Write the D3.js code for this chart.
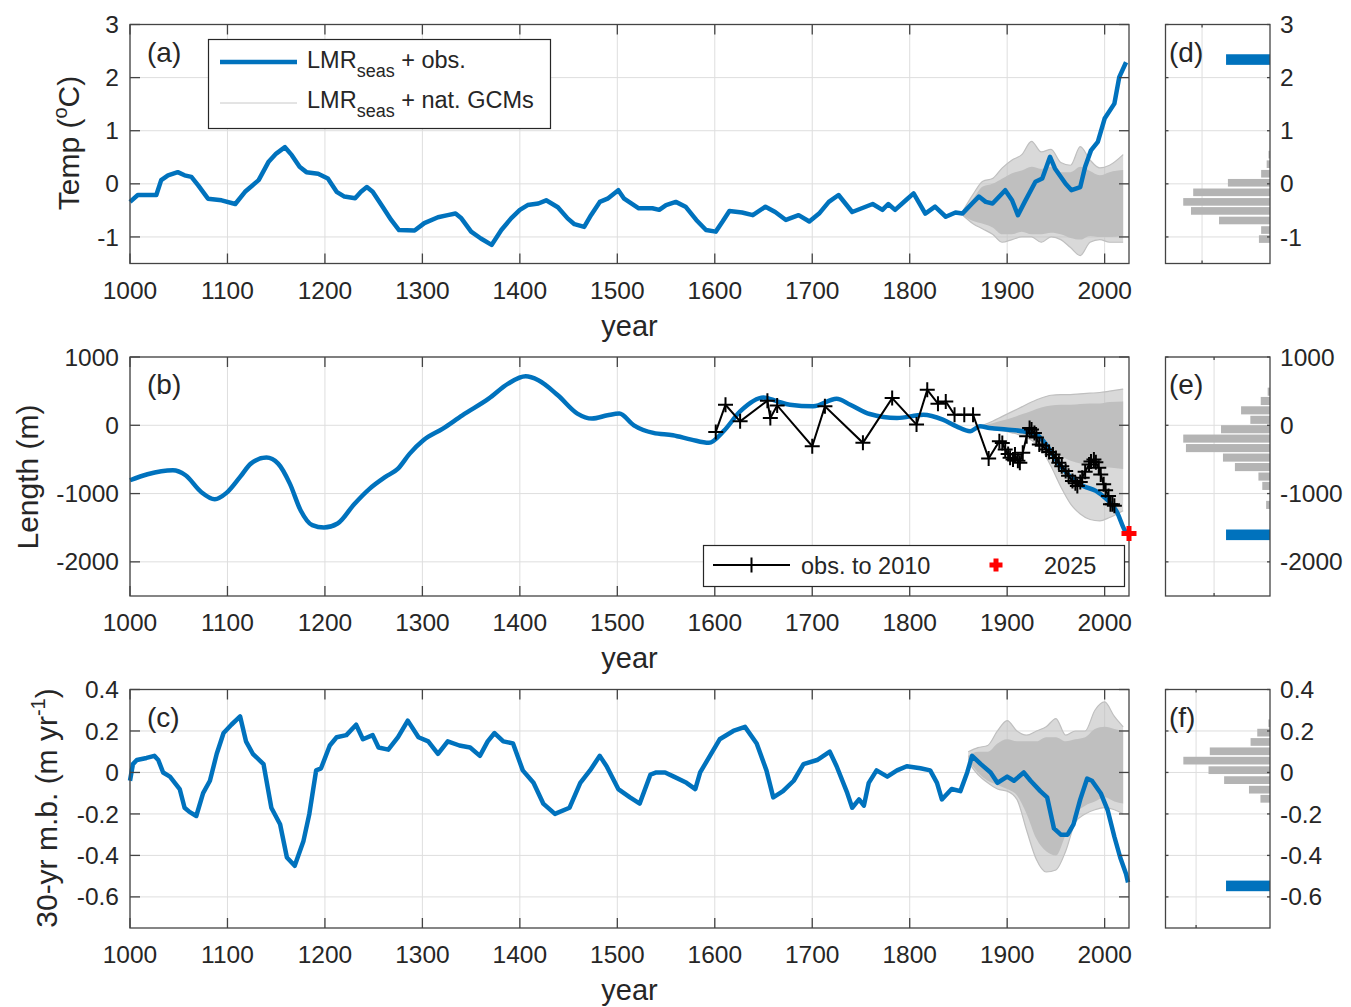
<!DOCTYPE html>
<html>
<head>
<meta charset="utf-8">
<script src="https://cdn.jsdelivr.net/npm/d3@7"></script>
<style>
  body { margin: 0; background: #fff; }
  text { font-family: "Liberation Sans", Arial, Helvetica, sans-serif; fill: #262626; }
</style>
</head>
<body>
<svg id="fig" width="1351" height="1007"></svg>
<script>
// ---------- data ----------
// (a) temperature anomaly, LMR_seas + obs.
var tempYear = [1000,1008,1027,1032,1039,1049,1056,1063,1070,1080,1094,1108,1118,1125,1132,1142,1150,1159,1166,1174,1181,1193,1203,1212,1220,1231,1237,1243,1249,1258,1268,1276,1292,1302,1316,1326,1334,1340,1350,1360,1371,1381,1391,1400,1408,1419,1427,1439,1449,1456,1466,1473,1482,1490,1501,1507,1512,1522,1536,1543,1550,1560,1570,1581,1591,1601,1608,1615,1628,1639,1652,1662,1673,1686,1697,1707,1717,1727,1741,1762,1772,1778,1785,1796,1804,1816,1826,1837,1847,1854,1864,1871,1878,1885,1898,1905,1911,1918,1929,1936,1944,1949,1960,1966,1975,1980,1986,1993,2000,2010,2015,2022];
var tempVal = [-0.34,-0.21,-0.21,0.07,0.16,0.22,0.16,0.13,-0.03,-0.28,-0.31,-0.38,-0.15,-0.04,0.07,0.41,0.57,0.69,0.54,0.32,0.22,0.19,0.1,-0.15,-0.24,-0.27,-0.15,-0.06,-0.15,-0.4,-0.68,-0.87,-0.88,-0.74,-0.63,-0.59,-0.56,-0.65,-0.9,-1.03,-1.15,-0.87,-0.65,-0.49,-0.4,-0.37,-0.31,-0.44,-0.65,-0.76,-0.81,-0.59,-0.34,-0.28,-0.12,-0.28,-0.34,-0.46,-0.46,-0.49,-0.4,-0.34,-0.43,-0.68,-0.87,-0.9,-0.71,-0.51,-0.54,-0.59,-0.43,-0.53,-0.68,-0.59,-0.71,-0.56,-0.34,-0.21,-0.53,-0.38,-0.49,-0.38,-0.49,-0.31,-0.18,-0.56,-0.43,-0.62,-0.54,-0.56,-0.37,-0.24,-0.34,-0.37,-0.12,-0.31,-0.59,-0.34,0.04,0.1,0.51,0.29,0.0,-0.12,-0.06,0.32,0.63,0.79,1.23,1.51,2.01,2.29];
// (a) LMR_seas + nat. GCMs ensemble spread
var tempEnsYear   = [1855,1865,1875,1885,1895,1905,1915,1925,1935,1945,1955,1965,1975,1985,1995,2005,2019];
var tempEnsHi     = [-0.5,-0.2,0.05,0.1,0.3,0.45,0.55,0.8,0.6,0.65,0.4,0.35,0.7,0.45,0.3,0.35,0.55];
var tempEnsCoreHi = [-0.5,-0.28,-0.05,0.0,0.1,0.2,0.25,0.32,0.28,0.32,0.22,0.22,0.32,0.24,0.16,0.22,0.26];
var tempEnsCoreLo = [-0.6,-0.7,-0.75,-0.82,-0.95,-0.95,-0.9,-0.95,-0.95,-0.92,-0.95,-1.02,-1.05,-0.98,-1.0,-1.0,-0.98];
var tempEnsLo     = [-0.6,-0.75,-0.85,-0.95,-1.1,-1.05,-1.0,-1.0,-1.1,-1.0,-1.05,-1.2,-1.35,-1.1,-1.05,-1.1,-1.1];

// (b) glacier length
var lenYear = [1000,1018,1044,1057,1073,1087,1099,1113,1124,1140,1152,1164,1175,1187,1199,1213,1230,1246,1262,1275,1287,1301,1321,1341,1368,1388,1406,1419,1439,1459,1474,1490,1502,1517,1537,1557,1576,1594,1609,1626,1650,1664,1677,1701,1725,1739,1759,1787,1814,1834,1848,1862,1872,1882,1899,1916,1930,1940,1950,1964,1978,1991,2002,2012,2022,2025];
var lenVal = [-805,-717,-659,-732,-976,-1083,-990,-756,-561,-473,-561,-854,-1244,-1463,-1498,-1439,-1156,-927,-756,-634,-415,-220,-49,146,390,610,717,659,439,171,98,146,171,0,-112,-146,-210,-257,-87,204,408,350,301,277,388,301,165,107,155,83,-15,-87,-15,-39,-63,-87,-136,-282,-500,-743,-888,-961,-1083,-1252,-1568,-1600];
var lenEnsYear   = [1875,1885,1895,1905,1915,1925,1935,1945,1955,1965,1975,1985,1995,2005,2019];
var lenEnsHi     = [0,60,130,200,270,340,400,440,450,450,460,470,480,500,530];
var lenEnsCoreHi = [-10,30,70,110,160,210,260,290,300,300,310,320,320,340,350];
var lenEnsCoreLo = [-30,-40,-60,-90,-130,-180,-250,-360,-450,-520,-560,-580,-600,-620,-640];
var lenEnsLo     = [-40,-60,-80,-110,-150,-220,-350,-600,-900,-1150,-1300,-1380,-1400,-1350,-1250];
// observed lengths to 2010
var obsYear = [1601,1611,1626,1654,1657,1664,1700,1713,1752,1782,1807,1818,1829,1837,1846,1856,1865,1881,1892,1895,1898,1901,1903,1906,1908,1911,1913,1916,1920,1923,1925,1928,1930,1933,1936,1940,1943,1947,1950,1953,1956,1960,1963,1967,1970,1972,1975,1977,1980,1984,1986,1989,1991,1994,1996,1999,2001,2004,2006,2008,2010];
var obsVal = [-97,301,58,359,107,291,-306,277,-257,398,10,519,316,350,155,155,155,-485,-233,-260,-354,-420,-476,-500,-427,-520,-549,-403,-160,-39,-60,-112,-180,-282,-300,-354,-390,-427,-480,-549,-600,-670,-740,-816,-850,-888,-830,-767,-680,-573,-530,-500,-540,-621,-720,-864,-950,-1034,-1155,-1155,-1180];
var obs2025Year = 2025, obs2025Val = -1583;

// (c) 30-yr mass balance
var mbYear = [1000,1003,1007,1017,1025,1029,1034,1041,1051,1056,1061,1068,1075,1082,1089,1096,1104,1113,1119,1126,1137,1145,1154,1161,1169,1178,1184,1191,1196,1205,1212,1222,1232,1239,1249,1255,1265,1275,1285,1296,1306,1316,1326,1338,1349,1359,1367,1374,1383,1393,1403,1414,1424,1436,1451,1462,1472,1482,1489,1501,1513,1523,1534,1540,1549,1558,1571,1580,1585,1595,1605,1619,1631,1643,1653,1660,1670,1681,1691,1705,1718,1725,1736,1741,1748,1753,1758,1766,1777,1787,1797,1811,1821,1828,1833,1843,1852,1859,1864,1873,1883,1890,1900,1907,1917,1924,1934,1941,1948,1955,1962,1968,1975,1982,1987,1996,2003,2010,2016,2022,2024];
var mbVal = [-0.04,0.04,0.06,0.07,0.08,0.06,0.0,-0.02,-0.08,-0.17,-0.19,-0.21,-0.1,-0.04,0.09,0.19,0.23,0.27,0.15,0.09,0.04,-0.17,-0.25,-0.41,-0.45,-0.33,-0.2,0.01,0.02,0.13,0.17,0.18,0.23,0.16,0.18,0.12,0.11,0.17,0.25,0.17,0.15,0.09,0.15,0.13,0.12,0.08,0.15,0.19,0.15,0.14,0.01,-0.05,-0.15,-0.2,-0.17,-0.05,0.01,0.08,0.03,-0.08,-0.12,-0.15,-0.01,0.0,0.0,-0.02,-0.05,-0.08,0.0,0.08,0.16,0.2,0.22,0.14,0.01,-0.12,-0.09,-0.04,0.04,0.06,0.1,0.03,-0.1,-0.17,-0.13,-0.16,-0.05,0.01,-0.02,0.01,0.03,0.02,0.01,-0.05,-0.13,-0.08,-0.09,0.0,0.08,0.04,0.0,-0.05,-0.02,-0.04,0.0,-0.04,-0.09,-0.12,-0.27,-0.3,-0.3,-0.25,-0.13,-0.03,-0.04,-0.1,-0.18,-0.31,-0.41,-0.49,-0.53];
var mbEnsYear   = [1860,1870,1880,1890,1900,1910,1920,1930,1940,1950,1960,1970,1980,1990,2000,2010,2019];
var mbEnsHi     = [0.1,0.12,0.13,0.2,0.25,0.2,0.18,0.2,0.22,0.26,0.18,0.2,0.2,0.3,0.34,0.27,0.22];
var mbEnsCoreHi = [0.08,0.1,0.1,0.14,0.16,0.15,0.15,0.15,0.17,0.17,0.15,0.16,0.17,0.21,0.22,0.21,0.2];
var mbEnsCoreLo = [0.06,0.0,-0.04,-0.06,-0.08,-0.11,-0.2,-0.32,-0.38,-0.4,-0.3,-0.2,-0.16,-0.14,-0.12,-0.14,-0.15];
var mbEnsLo     = [0.05,-0.01,-0.05,-0.08,-0.09,-0.13,-0.28,-0.42,-0.48,-0.47,-0.38,-0.24,-0.2,-0.18,-0.17,-0.18,-0.2];

// (d)-(f) histograms of ensemble end values (percent of members), plus LMR_seas + obs. end value
var tempBinCenter = [-1.04,-0.87,-0.69,-0.51,-0.34,-0.16,0.02,0.19,0.37,0.55];
var tempBinPct    = [3.0,2.4,13.8,21.4,23.5,20.8,11.4,2.4,0.9,0.4];
var lenBinCenter  = [-1166,-1027,-888,-751,-612,-473,-334,-195,-58,80,219,356,492];
var lenBinPct     = [1.0,0,2.0,3.0,9.1,12.2,21.8,22.5,12.7,5.1,7.5,2.4,0.6];
var mbBinCenter   = [-0.127,-0.083,-0.037,0.011,0.057,0.102,0.147,0.192,0.237];
var mbBinPct      = [3.0,6.6,14.4,19.3,27.2,18.9,6.1,4.0,0.5];
var obsEnd    = [2.34, -1604, -0.547];
var obsEndPct = [11.9, 11.4, 13.8];

// ---------- layout ----------
var svg = d3.select('#fig');
var X0 = 130, X1 = 1129, HX0 = 1165.5, HX1 = 1270;
var BLUE = '#0072BD', GRAY = '#bfbfbf', AX = '#444';
var xScale = d3.scaleLinear().domain([1000, 2025]).range([X0, X1]);
var yearTicks = d3.range(1000, 2001, 100);

function zip(xs, ys) { return xs.map(function (x, i) { return [x, ys[i]]; }); }

function mainPanel(top, bottom, domain, ticks) {
  var y = d3.scaleLinear().domain(domain).range([bottom, top]);
  var g = svg.append('g');
  // grid
  g.selectAll('.gx').data(yearTicks).enter().append('line')
    .attr('x1', d => xScale(d)).attr('x2', d => xScale(d))
    .attr('y1', top).attr('y2', bottom)
    .attr('stroke', '#dedede').attr('stroke-width', 1);
  g.selectAll('.gy').data(ticks).enter().append('line')
    .attr('x1', X0).attr('x2', X1)
    .attr('y1', d => y(d)).attr('y2', d => y(d))
    .attr('stroke', '#dedede').attr('stroke-width', 1);
  return { g: g, y: y, top: top, bottom: bottom, ticks: ticks };
}

function finishPanel(p) {
  var g = svg.append('g');
  g.append('rect').attr('x', X0).attr('y', p.top).attr('width', X1 - X0).attr('height', p.bottom - p.top)
    .attr('fill', 'none').attr('stroke', AX).attr('stroke-width', 1.3);
  yearTicks.forEach(function (t) {
    g.append('line').attr('x1', xScale(t)).attr('x2', xScale(t)).attr('y1', p.bottom).attr('y2', p.bottom - 10).attr('stroke', AX).attr('stroke-width', 1.3);
    g.append('line').attr('x1', xScale(t)).attr('x2', xScale(t)).attr('y1', p.top).attr('y2', p.top + 10).attr('stroke', AX).attr('stroke-width', 1.3);
    g.append('text').attr('x', xScale(t)).attr('y', p.bottom + 35).attr('text-anchor', 'middle')
      .attr('font-size', 24.5).text(t);
  });
  p.ticks.forEach(function (t) {
    g.append('line').attr('x1', X0).attr('x2', X0 + 10).attr('y1', p.y(t)).attr('y2', p.y(t)).attr('stroke', AX).attr('stroke-width', 1.3);
    g.append('line').attr('x1', X1).attr('x2', X1 - 10).attr('y1', p.y(t)).attr('y2', p.y(t)).attr('stroke', AX).attr('stroke-width', 1.3);
    g.append('text').attr('x', 119).attr('y', p.y(t)).attr('dy', '0.35em').attr('text-anchor', 'end')
      .attr('font-size', 24.5).text(String(t));
  });
  g.append('text').attr('x', (X0 + X1) / 2).attr('y', p.bottom + 72).attr('text-anchor', 'middle')
    .attr('font-size', 29).text('year');
}

function ensemble(p, yrs, hi, coreHi, coreLo, lo) {
  var outer = d3.area().x((d, i) => xScale(yrs[i])).y0((d, i) => p.y(lo[i])).y1((d, i) => p.y(hi[i])).curve(d3.curveMonotoneX);
  var core = d3.area().x((d, i) => xScale(yrs[i])).y0((d, i) => p.y(coreLo[i])).y1((d, i) => p.y(coreHi[i])).curve(d3.curveMonotoneX);
  p.g.append('path').attr('d', outer(yrs)).attr('fill', GRAY).attr('fill-opacity', 0.6);
  p.g.append('path').attr('d', core(yrs)).attr('fill', GRAY);
  var ln = d3.line().curve(d3.curveMonotoneX);
  [hi, lo].forEach(function (s) {
    p.g.append('path').attr('d', ln(zip(yrs.map(xScale), s.map(p.y)))).attr('fill', 'none').attr('stroke', GRAY).attr('stroke-width', 1.2);
  });
}

function blueLine(p, yrs, vals, curve) {
  var ln = d3.line().x(d => xScale(d[0])).y(d => p.y(d[1])).curve(curve || d3.curveLinear);
  p.g.append('path').attr('d', ln(zip(yrs, vals))).attr('fill', 'none')
    .attr('stroke', BLUE).attr('stroke-width', 4.5).attr('stroke-linejoin', 'round');
}

function plusPath(s) { return 'M' + (-s) + ',0H' + s + 'M0,' + (-s) + 'V' + s; }

function histPanel(top, bottom, domain, ticks, centers, pct, xMax, gridVal, endVal, endPct, label) {
  var y = d3.scaleLinear().domain(domain).range([bottom, top]);
  var x = d3.scaleLinear().domain([0, xMax]).range([HX1, HX0]);
  var g = svg.append('g');
  g.append('line').attr('x1', x(gridVal)).attr('x2', x(gridVal)).attr('y1', top).attr('y2', bottom).attr('stroke', '#dedede');
  ticks.forEach(function (t) {
    g.append('line').attr('x1', HX0).attr('x2', HX1).attr('y1', y(t)).attr('y2', y(t)).attr('stroke', '#dedede');
  });
  var w = centers[1] - centers[0];
  var bh = Math.abs(y(0) - y(w));
  g.selectAll('.hb').data(d3.range(centers.length)).enter().append('rect')
    .attr('x', i => x(pct[i])).attr('width', i => HX1 - x(pct[i]))
    .attr('y', i => y(centers[i]) - bh / 2 + 0.7).attr('height', bh - 1.4)
    .attr('fill', '#b4b4b4');
  g.append('rect').attr('x', x(endPct)).attr('width', HX1 - x(endPct))
    .attr('y', y(endVal) - 5.3).attr('height', 10.6).attr('fill', BLUE);
  g.append('rect').attr('x', HX0).attr('y', top).attr('width', HX1 - HX0).attr('height', bottom - top)
    .attr('fill', 'none').attr('stroke', AX).attr('stroke-width', 1.3);
  ticks.forEach(function (t) {
    g.append('line').attr('x1', HX0).attr('x2', HX0 + 3).attr('y1', y(t)).attr('y2', y(t)).attr('stroke', AX).attr('stroke-width', 1.3);
    g.append('line').attr('x1', HX1).attr('x2', HX1 - 3).attr('y1', y(t)).attr('y2', y(t)).attr('stroke', AX).attr('stroke-width', 1.3);
    g.append('text').attr('x', 1280).attr('y', y(t)).attr('dy', '0.35em').attr('font-size', 24.5).text(String(t));
  });
  g.append('line').attr('x1', x(gridVal)).attr('x2', x(gridVal)).attr('y1', bottom).attr('y2', bottom - 3).attr('stroke', AX).attr('stroke-width', 1.3);
  g.append('line').attr('x1', x(gridVal)).attr('x2', x(gridVal)).attr('y1', top).attr('y2', top + 3).attr('stroke', AX).attr('stroke-width', 1.3);
  g.append('text').attr('x', 1169).attr('y', top + 37).attr('font-size', 28).text(label);
}

// ---------- panel (a) ----------
var pa = mainPanel(24.5, 263.5, [-1.5, 3], [-1, 0, 1, 2, 3]);
ensemble(pa, tempEnsYear, tempEnsHi, tempEnsCoreHi, tempEnsCoreLo, tempEnsLo);
blueLine(pa, tempYear, tempVal);
finishPanel(pa);
svg.append('text').attr('x', 147).attr('y', 61.5).attr('font-size', 28).text('(a)');

// legend (a)
var la = svg.append('g');
la.append('rect').attr('x', 208.5).attr('y', 39.5).attr('width', 342).attr('height', 89)
  .attr('fill', '#fff').attr('stroke', '#262626').attr('stroke-width', 1.2);
la.append('line').attr('x1', 220).attr('x2', 297).attr('y1', 62).attr('y2', 62).attr('stroke', BLUE).attr('stroke-width', 4.5);
la.append('line').attr('x1', 220).attr('x2', 297).attr('y1', 103).attr('y2', 103).attr('stroke', '#c8c8c8').attr('stroke-width', 1);
[[68, ' + obs.'], [108, ' + nat. GCMs']].forEach(function (e) {
  var t = la.append('text').attr('x', 307).attr('y', e[0]).attr('font-size', 23.5);
  t.append('tspan').text('LMR');
  t.append('tspan').attr('dy', 9).attr('font-size', 18).text('seas');
  t.append('tspan').attr('dy', -9).text(e[1]);
});

// ---------- panel (b) ----------
var pb = mainPanel(357, 596, [-2500, 1000], [-2000, -1000, 0, 1000]);
ensemble(pb, lenEnsYear, lenEnsHi, lenEnsCoreHi, lenEnsCoreLo, lenEnsLo);
blueLine(pb, lenYear, lenVal, d3.curveMonotoneX);
var obsLine = d3.line().x(d => xScale(d[0])).y(d => pb.y(d[1]));
pb.g.append('path').attr('d', obsLine(zip(obsYear, obsVal))).attr('fill', 'none').attr('stroke', '#000').attr('stroke-width', 2);
pb.g.selectAll('.obs').data(zip(obsYear, obsVal)).enter().append('path')
  .attr('transform', d => 'translate(' + xScale(d[0]) + ',' + pb.y(d[1]) + ')')
  .attr('d', plusPath(7.5)).attr('stroke', '#000').attr('stroke-width', 2).attr('fill', 'none');
finishPanel(pb);
svg.append('path').attr('transform', 'translate(' + xScale(obs2025Year) + ',' + pb.y(obs2025Val) + ')')
  .attr('d', plusPath(7.5)).attr('stroke', '#ff0000').attr('stroke-width', 5);
svg.append('text').attr('x', 147).attr('y', 394).attr('font-size', 28).text('(b)');

// legend (b)
var lb = svg.append('g');
lb.append('rect').attr('x', 703.5).attr('y', 545.5).attr('width', 421).attr('height', 41)
  .attr('fill', '#fff').attr('stroke', '#262626').attr('stroke-width', 1.2);
lb.append('line').attr('x1', 713).attr('x2', 790).attr('y1', 565).attr('y2', 565).attr('stroke', '#000').attr('stroke-width', 2);
lb.append('path').attr('transform', 'translate(751.5,565)').attr('d', plusPath(7.5)).attr('stroke', '#000').attr('stroke-width', 2);
lb.append('text').attr('x', 801).attr('y', 574).attr('font-size', 23.5).text('obs. to 2010');
lb.append('path').attr('transform', 'translate(996,565)').attr('d', plusPath(6.5)).attr('stroke', '#ff0000').attr('stroke-width', 5);
lb.append('text').attr('x', 1044).attr('y', 574).attr('font-size', 23.5).text('2025');

// ---------- panel (c) ----------
var pc = mainPanel(689.5, 928, [-0.75, 0.4], [-0.6, -0.4, -0.2, 0, 0.2, 0.4]);
ensemble(pc, mbEnsYear, mbEnsHi, mbEnsCoreHi, mbEnsCoreLo, mbEnsLo);
blueLine(pc, mbYear, mbVal);
finishPanel(pc);
svg.append('text').attr('x', 147).attr('y', 727).attr('font-size', 28).text('(c)');

// ---------- histograms (d)-(f) ----------
histPanel(24.5, 263.5, [-1.5, 3], [-1, 0, 1, 2, 3], tempBinCenter, tempBinPct, 28.3, 18.4, obsEnd[0], obsEndPct[0], '(d)');
histPanel(357, 596, [-2500, 1000], [-2000, -1000, 0, 1000], lenBinCenter, lenBinPct, 27.1, 14.5, obsEnd[1], obsEndPct[1], '(e)');
histPanel(689.5, 928, [-0.75, 0.4], [-0.6, -0.4, -0.2, 0, 0.2, 0.4], mbBinCenter, mbBinPct, 32.8, 23.2, obsEnd[2], obsEndPct[2], '(f)');

// ---------- y-axis titles ----------
var t1 = svg.append('text').attr('transform', 'translate(79,143) rotate(-90)').attr('text-anchor', 'middle').attr('font-size', 30);
t1.append('tspan').text('Temp (');
t1.append('tspan').attr('dy', -12).attr('font-size', 20).text('o');
t1.append('tspan').attr('dy', 12).text('C)');
svg.append('text').attr('transform', 'translate(38,477) rotate(-90)').attr('text-anchor', 'middle').attr('font-size', 30).text('Length (m)');
var t3 = svg.append('text').attr('transform', 'translate(57,808) rotate(-90)').attr('text-anchor', 'middle').attr('font-size', 30);
t3.append('tspan').text('30-yr m.b. (m yr');
t3.append('tspan').attr('dy', -12).attr('font-size', 20).text('-1');
t3.append('tspan').attr('dy', 12).text(')');
</script>
</body>
</html>
